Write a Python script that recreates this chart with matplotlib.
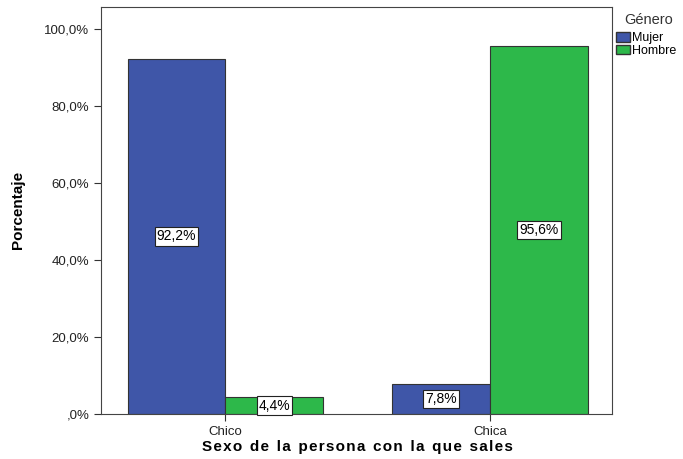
import matplotlib.pyplot as plt
import numpy as np
from matplotlib.ticker import FuncFormatter
from matplotlib.patches import Patch

categorias = ['Chico', 'Chica']
mujer = [92.2, 7.8]
hombre = [4.4, 95.6]
ticks_y = [0, 20, 40, 60, 80, 100]

azul = '#3F56A8'
verde = '#2DB84A'

plt.rcParams['font.family'] = ['Liberation Sans', 'DejaVu Sans']

fig = plt.figure(figsize=(6.83, 4.59), dpi=100)
ax = fig.add_axes([0.148, 0.098, 0.748, 0.887])

x = np.arange(len(categorias))
w = 0.37
b1 = ax.bar(x - w / 2, mujer, w, color=azul, edgecolor='#333333', linewidth=0.8, label='Mujer')
b2 = ax.bar(x + w / 2, hombre, w, color=verde, edgecolor='#333333', linewidth=0.8, label='Hombre')

for bars, vals in [(b1, mujer), (b2, hombre)]:
    for r, v in zip(bars, vals):
        ax.text(r.get_x() + r.get_width() / 2, v / 2, f'{v:.1f}%'.replace('.', ','),
                ha='center', va='center', fontsize=10,
                bbox=dict(boxstyle='square,pad=0.15', fc='white', ec='#222222', lw=0.8))

ax.set_xlim(-0.47, 1.46)
ax.set_ylim(0, 105.7)
ax.set_yticks(ticks_y)
ax.yaxis.set_major_formatter(FuncFormatter(lambda v, p: ',0%' if v == 0 else f'{v:.1f}%'.replace('.', ',')))
ax.set_xticks(x)
ax.set_xticklabels(categorias)
ax.tick_params(labelsize=9.5, color='#333333', labelcolor='#222222', length=5)

for s in ax.spines.values():
    s.set_color('#444444')
    s.set_linewidth(0.8)

fig.text(18 / 683, 1 - 210 / 459, 'Porcentaje', rotation=90, ha='center', va='center',
         fontsize=11, fontweight='bold', family=['Liberation Sans Narrow', 'Liberation Sans'])
xl = 'Sexo de la persona con la que sales'
xl = '\u2002'.join('\u200a'.join(p) for p in xl.split(' '))
fig.text(357 / 683, 1 - 447 / 459, xl, ha='center', va='center', fontsize=11, fontweight='bold')

# legend: title and items placed separately
fig.text(624 / 683, 1 - 20 / 459, 'Género', ha='left', va='center', fontsize=10.5, color='#333333')
handles = [Patch(facecolor=azul, edgecolor='#333333', label='Mujer'),
           Patch(facecolor=verde, edgecolor='#333333', label='Hombre')]
fig.legend(handles=handles, loc='upper left', bbox_to_anchor=(616 / 683, 1 - 32 / 459),
           frameon=False, fontsize=9, handlelength=1.1, handleheight=0.8,
           handletextpad=0.2, labelspacing=0.05, borderpad=0.0, borderaxespad=0)

fig.savefig('out.png', dpi=100)
